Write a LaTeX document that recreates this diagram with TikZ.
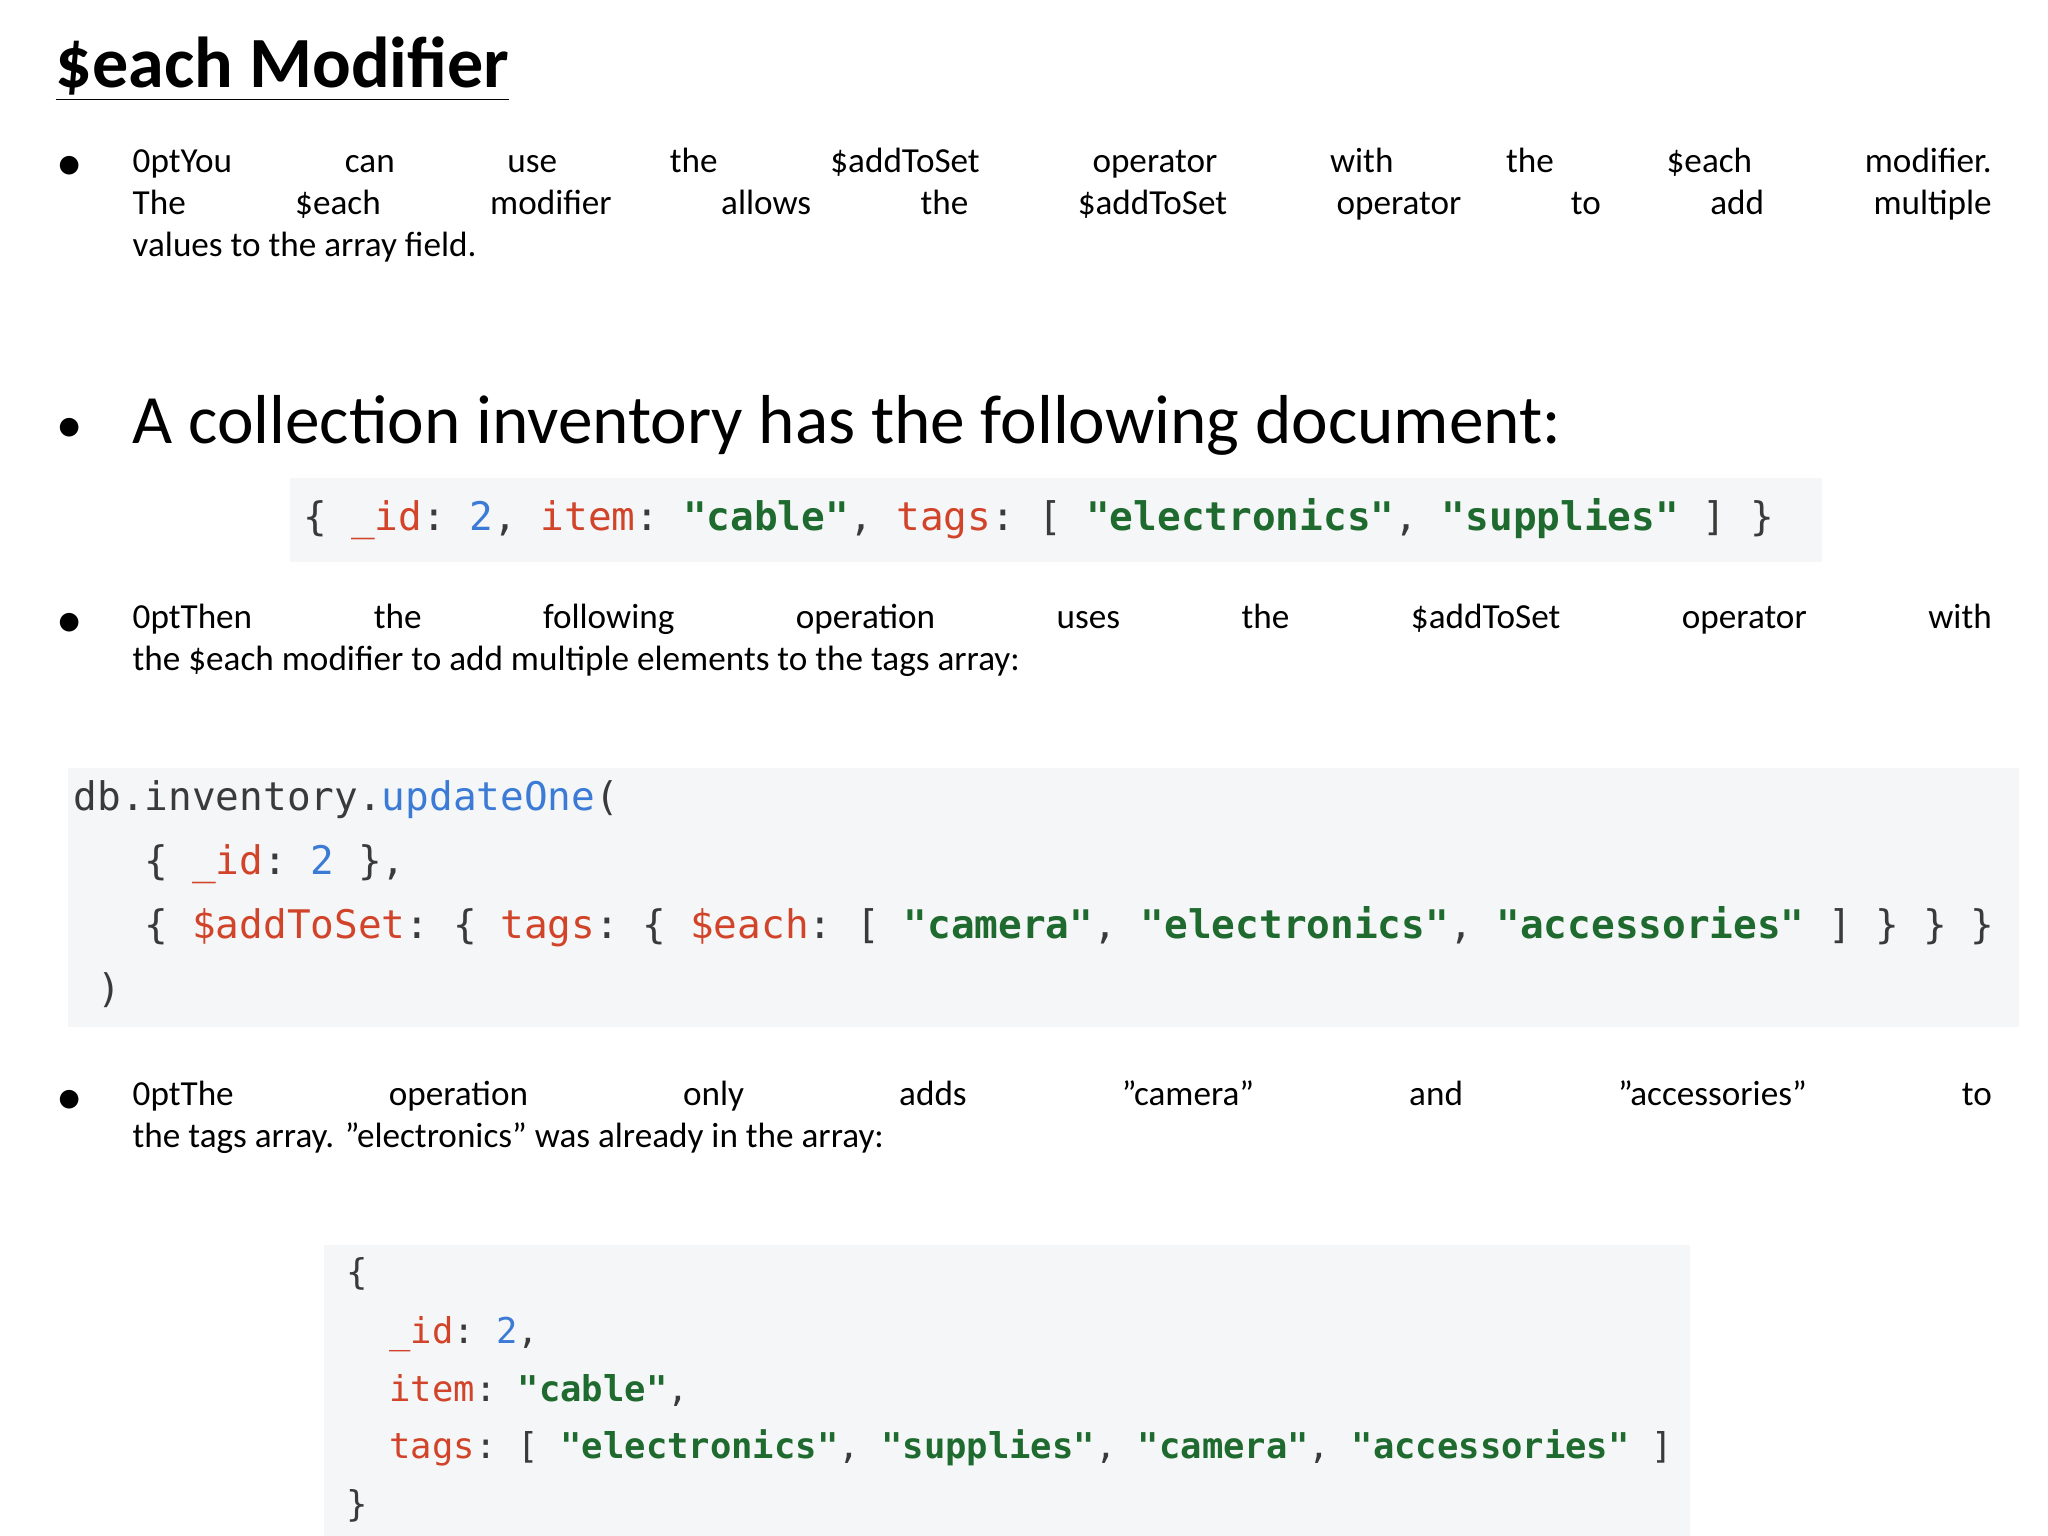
\documentclass[tikz,border=0pt]{standalone}
\usepackage{fontspec}
\setmainfont{Carlito}
\setmonofont{DejaVu Sans Mono}
\usepackage{xcolor}
\usetikzlibrary{positioning}
\definecolor{codebg}{HTML}{F5F6F7}
\definecolor{keyred}{HTML}{D1442A}
\definecolor{numblue}{HTML}{3B7BD6}
\definecolor{strgreen}{HTML}{1F6B2F}
\definecolor{codegray}{HTML}{3A3A3A}
\newcommand{\ky}[1]{\textcolor{keyred}{#1}}
\newcommand{\nm}[1]{\textcolor{numblue}{#1}}
\newcommand{\st}[1]{\textcolor{strgreen}{\bfseries #1}}
\newcommand{\q}{\char34\relax}

\begin{document}
\begin{tikzpicture}[x=0.01cm, y=-0.01cm,
body/.style={anchor=base west, inner sep=0pt, font=\fontsize{19.7}{23.2}\selectfont},
para/.style={anchor=north west, inner sep=0pt, text width=18.58cm, align=justify, font=\hyphenpenalty=10000\fontsize{19.7}{23.2}\selectfont},
bullet/.style={anchor=base west, inner sep=0pt, font=\fontsize{15}{18}\selectfont},
codebox/.style={fill=codebg, draw=none},
codeline/.style={anchor=base west, inner sep=0pt, text=codegray, font=\ttfamily\fontsize{11.2}{13}\selectfont},
smallcode/.style={codeline, font=\ttfamily\fontsize{10.1}{12}\selectfont}]
    \useasboundingbox (0,0) rectangle (2048,1536);
    \fill[white] (0,0) rectangle (2048,1536);

    % title
    \node[body, font=\bfseries\fontsize{20.5}{24}\selectfont] (title) at (55,87) {\underline{\$each Modifier}};

    % bullets
    \foreach \y/\n in {180/b1, 442/b2, 637/b3, 1114/b4}
      \node[bullet] (\n) at (56,\y) {\textbullet};

    \node[para] (p1) at (132,147) {You can use the \$addToSet operator with the \$each modifier.\linebreak The \$each modifier allows the \$addToSet operator to add multiple\linebreak values to the array field.};
    \node[body] (p2) at (132,443) {A collection inventory has the following document:};
    \node[para] (p3) at (132,603) {Then the following operation uses the \$addToSet operator with\linebreak the \$each modifier to add multiple elements to the tags array:};
    \node[para] (p4) at (132,1080) {The operation only adds \q camera\q{} and \q accessories\q{} to\linebreak the tags array. \q electronics\q{} was already in the array:};

    % code boxes
    \fill[codebox] (290,478) rectangle (1822,562);
    \fill[codebox] (68,768) rectangle (2019,1027);
    \fill[codebox] (324,1245) rectangle (1690,1536);

    \node[codeline] (c1) at (303,530) {\{ \ky{\_id}: \nm{2}, \ky{item}: \st{"cable"}, \ky{tags}: [ \st{"electronics"}, \st{"supplies"} ] \}};

    \node[codeline] (u1) at (73,810) {db.inventory.\nm{updateOne}(};
    \node[codeline] (u2) at (73,874) {\ \ \ \{ \ky{\_id}: \nm{2} \},};
    \node[codeline] (u3) at (73,938) {\ \ \ \{ \ky{\$addToSet}: \{ \ky{tags}: \{ \ky{\$each}: [ \st{"camera"}, \st{"electronics"}, \st{"accessories"} ] \} \} \}};
    \node[codeline] (u4) at (73,1002) {\ )};

    \node[smallcode] (r1) at (346,1284) {\{};
    \node[smallcode] (r2) at (346,1343) {\ \ \ky{\_id}: \nm{2},};
    \node[smallcode] (r3) at (346,1401) {\ \ \ky{item}: \st{"cable"},};
    \node[smallcode] (r4) at (346,1458) {\ \ \ky{tags}: [ \st{"electronics"}, \st{"supplies"}, \st{"camera"}, \st{"accessories"} ]};
    \node[smallcode] (r5) at (346,1516) {\}};
\end{tikzpicture}
\end{document}
